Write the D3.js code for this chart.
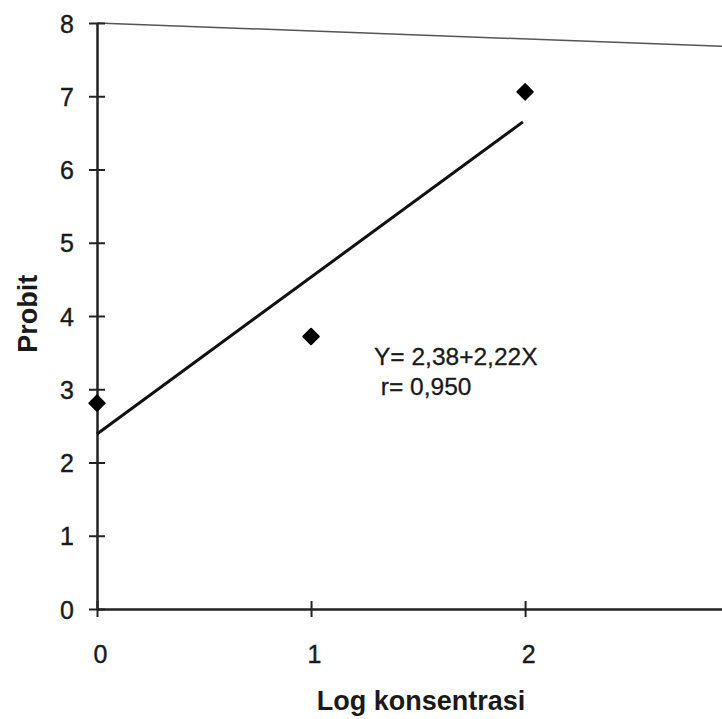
<!DOCTYPE html>
<html>
<head>
<meta charset="utf-8">
<script src="https://cdn.jsdelivr.net/npm/d3@7"></script>
<style>
  body { margin: 0; background: #fff; }
  text { font-family: "Liberation Sans", Arial, sans-serif; fill: #1a1a1a; }
</style>
</head>
<body>
<div id="chart"></div>
<script>
// data
const logKonsentrasi = [0, 1, 2];
const probit = [2.81, 3.72, 7.06];
const yTicks = [0, 1, 2, 3, 4, 5, 6, 7, 8];
const xTicks = [0, 1, 2];
const fitLine = [[0, 2.39], [1.99, 6.65]];
const topFrame = [[0, 8], [2.93, 7.68]];
const equation = ["Y= 2,38+2,22X", " r= 0,950"];

const width = 722, height = 719;
const margin = { left: 97, top: 23, right: 0, bottom: 110 };

const svg = d3.select("#chart").append("svg")
    .attr("width", width)
    .attr("height", height);

const x = d3.scaleLinear().domain([0, 2.92]).range([margin.left, width]);
const y = d3.scaleLinear().domain([0, 8]).range([609, margin.top]);

// top frame line (slightly skewed in the scan)
svg.append("line")
    .attr("x1", x(topFrame[0][0])).attr("y1", y(topFrame[0][1]))
    .attr("x2", x(topFrame[1][0])).attr("y2", y(topFrame[1][1]))
    .attr("stroke", "#555")
    .attr("stroke-width", 1.5);

// y axis
const yAxis = svg.append("g")
    .attr("transform", `translate(${margin.left},0)`)
    .call(d3.axisLeft(y).tickValues(yTicks).tickSize(0).tickPadding(23).tickFormat(d3.format("d")));
yAxis.select(".domain").attr("stroke", "#222").attr("stroke-width", 2.5);
yAxis.selectAll(".tick line").remove();
yAxis.selectAll(".tick").append("line")
    .attr("x1", -8).attr("x2", 8)
    .attr("stroke", "#222").attr("stroke-width", 2);
yAxis.selectAll(".tick text")
    .style("font-size", "25px")
    .attr("stroke", "#1a1a1a").attr("stroke-width", 0.4)
    .attr("dy", "0.36em");

// x axis
const xAxis = svg.append("g")
    .attr("transform", `translate(0,${y(0)})`)
    .call(d3.axisBottom(x).tickValues(xTicks).tickSize(0).tickFormat(d3.format("d")));
xAxis.select(".domain").attr("stroke", "#222").attr("stroke-width", 2.5);
xAxis.selectAll(".tick line").remove();
xAxis.selectAll(".tick").append("line")
    .attr("y1", -8).attr("y2", 8)
    .attr("stroke", "#222").attr("stroke-width", 2);
xAxis.selectAll(".tick text")
    .style("font-size", "25px")
    .attr("stroke", "#1a1a1a").attr("stroke-width", 0.4)
    .attr("y", 54)
    .attr("dy", 0)
    .attr("dx", "0.12em");

// axis titles
svg.append("text")
    .attr("transform", `translate(37,${y(4.03)}) rotate(-90)`)
    .attr("text-anchor", "middle")
    .style("font-size", "27px")
    .style("font-weight", "bold")
    .text("Probit");

svg.append("text")
    .attr("x", 421)
    .attr("y", 710)
    .attr("text-anchor", "middle")
    .style("font-size", "27px")
    .style("font-weight", "bold")
    .text("Log konsentrasi");

// regression line
svg.append("path")
    .datum(fitLine)
    .attr("fill", "none")
    .attr("stroke", "#111")
    .attr("stroke-width", 3)
    .attr("d", d3.line().x(d => x(d[0])).y(d => y(d[1])));

// points
svg.selectAll(".pt")
    .data(logKonsentrasi.map((d, i) => [d, probit[i]]))
    .enter()
    .append("path")
    .attr("class", "pt")
    .attr("transform", d => `translate(${x(d[0])},${y(d[1])}) rotate(45)`)
    .attr("d", d3.symbol().type(d3.symbolSquare).size(120))
    .attr("fill", "#000")
    .attr("stroke", "#000")
    .attr("stroke-width", 2)
    .attr("stroke-linejoin", "round");

// equation label
svg.selectAll(".eq")
    .data(equation)
    .enter()
    .append("text")
    .attr("class", "eq")
    .attr("x", 374)
    .attr("y", (d, i) => 365 + i * 30)
    .style("font-size", "24.5px")
    .attr("stroke", "#1a1a1a").attr("stroke-width", 0.3)
    .style("white-space", "pre")
    .text(d => d);
</script>
</body>
</html>
